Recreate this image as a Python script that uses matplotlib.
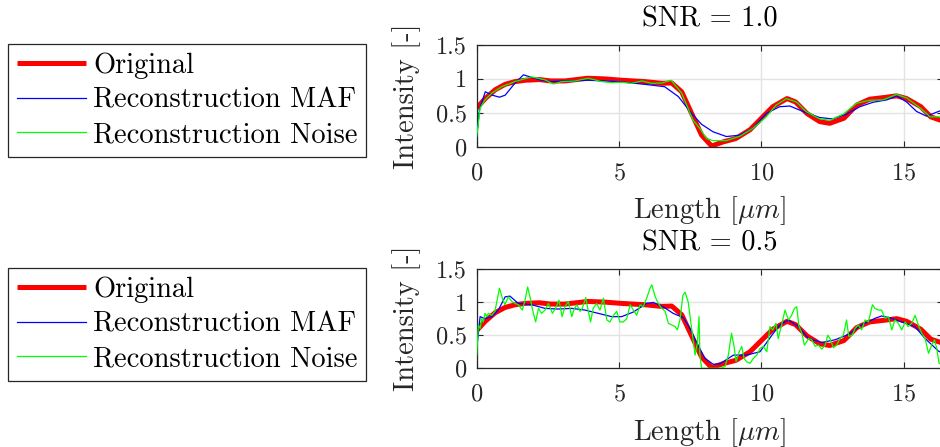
import matplotlib
matplotlib.use("Agg")
import matplotlib.pyplot as plt

plt.rcParams["font.family"] = ["cmr10", "DejaVu Serif"]
plt.rcParams["mathtext.fontset"] = "cm"
plt.rcParams["axes.formatter.use_mathtext"] = True
plt.rcParams["axes.unicode_minus"] = False

# ---- data ----
orig_x = [0.0, 0.3, 0.65, 1.0, 1.35, 1.7, 2.2, 2.6, 3.1, 3.9, 4.5, 5.1, 5.9, 6.5, 6.85, 7.2, 7.55,
          7.9, 8.25, 8.65, 9.1, 9.6, 10.0, 10.4, 10.9, 11.2, 11.6, 12.05, 12.4, 12.9, 13.35, 13.8,
          14.4, 14.75, 15.1, 15.6, 15.95, 16.3, 16.5]
orig_y = [0.57, 0.71, 0.84, 0.92, 0.96, 0.98, 0.99, 0.97, 0.97, 1.01, 1.0, 0.98, 0.96, 0.935, 0.94,
          0.81, 0.49, 0.17, 0.01, 0.07, 0.12, 0.25, 0.42, 0.59, 0.71, 0.66, 0.49, 0.37, 0.345, 0.42,
          0.615, 0.70, 0.73, 0.75, 0.71, 0.59, 0.44, 0.39, 0.36]

maf1_x = [0.0, 0.1, 0.3, 0.55, 0.8, 1.0, 1.34, 1.64, 1.87, 2.28, 2.63, 3.1, 3.92, 4.98, 5.9, 6.6,
          7.08, 7.55, 7.9, 8.3, 8.77, 9.24, 9.7, 10.17, 10.64, 11.0, 11.46, 12.05, 12.5, 12.99,
          13.46, 13.92, 14.4, 14.75, 15.1, 15.45, 15.8, 16.04, 16.28, 16.5]
maf1_y = [0.15, 0.55, 0.81, 0.76, 0.73, 0.76, 0.935, 1.06, 1.03, 0.98, 0.96, 0.97, 0.98, 0.96, 0.92,
          0.885, 0.74, 0.49, 0.33, 0.22, 0.15, 0.17, 0.27, 0.49, 0.59, 0.60, 0.52, 0.43, 0.41, 0.48,
          0.59, 0.655, 0.69, 0.75, 0.66, 0.52, 0.45, 0.49, 0.53, 0.54]

noise1_x = [0.0, 0.12, 0.29, 0.53, 0.88, 1.34, 1.92, 2.4, 2.7, 2.99, 3.45, 3.92, 4.39, 4.74, 5.09,
            5.44, 5.8, 6.15, 6.5, 6.83, 7.2, 7.6, 7.84, 8.07, 8.3, 8.77, 9.24, 9.7, 10.17, 10.52,
            10.88, 11.23, 11.58, 12.05, 12.4, 12.87, 13.34, 13.8, 14.27, 14.75, 15.1, 15.58,
            15.93, 16.28, 16.5]
noise1_y = [0.15, 0.57, 0.69, 0.79, 0.885, 0.96, 1.03, 0.985, 0.925, 0.96, 0.97, 1.01, 0.96, 0.945,
            0.95, 0.935, 0.97, 0.935, 0.94, 0.98, 0.79, 0.39, 0.27, 0.12, 0.09, 0.09, 0.155, 0.27,
            0.44, 0.615, 0.71, 0.66, 0.515, 0.41, 0.39, 0.48, 0.64, 0.685, 0.69, 0.77, 0.72, 0.57,
            0.44, 0.44, 0.42]

maf2_x = [0.0, 0.12, 0.29, 0.53, 0.76, 1.0, 1.17, 1.46, 1.93, 2.4, 2.87, 3.34, 3.8, 4.27, 4.74,
          5.09, 5.5, 5.97, 6.2, 6.55, 6.9, 7.26, 7.49, 7.73, 8.02, 8.31, 8.55, 9.02, 9.48, 9.95,
          10.42, 10.65, 10.95, 11.3, 11.65, 12.12, 12.58, 13.05, 13.52, 13.99, 14.22, 14.58,
          15.05, 15.39, 15.75, 16.22, 16.5]
maf2_y = [0.30, 0.78, 0.75, 0.78, 0.88, 1.08, 1.09, 0.98, 0.96, 0.905, 0.895, 0.905, 0.88, 0.83,
          0.78, 0.78, 0.85, 0.98, 0.995, 0.93, 0.83, 0.765, 0.60, 0.38, 0.15, 0.06, 0.07, 0.20,
          0.20, 0.25, 0.53, 0.655, 0.73, 0.63, 0.45, 0.39, 0.43, 0.51, 0.655, 0.755, 0.79, 0.755,
          0.68, 0.63, 0.45, 0.26, 0.20]

noise2_x = [0.0, 0.06, 0.12, 0.18, 0.23, 0.29, 0.35, 0.41, 0.53, 0.64, 0.73, 0.8, 0.9, 0.99, 1.11,
            1.23, 1.35, 1.46, 1.6, 1.69, 1.79, 1.87, 1.99, 2.07, 2.17, 2.28, 2.4, 2.52, 2.66, 2.77,
            2.89, 3.0, 3.1, 3.22, 3.34, 3.43, 3.52, 3.63, 3.71, 3.83, 3.92, 4.0, 4.09, 4.21, 4.33,
            4.45, 4.57, 4.68, 4.8, 4.92, 5.03, 5.15, 5.27, 5.39, 5.5, 5.62, 5.74, 5.85, 5.97, 6.09,
            6.15, 6.27, 6.38, 6.5, 6.62, 6.73, 6.85, 6.97, 7.05, 7.14, 7.24, 7.32, 7.43, 7.52,
            7.61, 7.67, 7.75, 7.81, 7.84, 7.9, 8.07, 8.31, 8.55, 8.72, 8.84, 8.95, 9.04, 9.11,
            9.22, 9.31, 9.39, 9.48, 9.6, 9.72, 9.84, 9.95, 10.07, 10.19, 10.3, 10.4, 10.51, 10.59,
            10.71, 10.83, 10.95, 11.06, 11.16, 11.24, 11.32, 11.41, 11.51, 11.59, 11.65, 11.77,
            11.89, 12.0, 12.12, 12.24, 12.33, 12.41, 12.53, 12.64, 12.76, 12.88, 12.99, 13.07,
            13.19, 13.29, 13.4, 13.52, 13.64, 13.76, 13.9, 13.99, 14.11, 14.22, 14.34, 14.46,
            14.58, 14.69, 14.81, 14.93, 15.05, 15.16, 15.28, 15.4, 15.51, 15.63, 15.75, 15.87,
            15.98, 16.08, 16.16, 16.24, 16.4]
noise2_y = [0.20, 0.655, 0.60, 0.75, 0.70, 0.83, 0.78, 0.83, 0.80, 0.86, 1.06, 1.21, 1.06, 0.96,
            1.08, 1.01, 0.98, 0.96, 0.88, 1.01, 1.23, 1.08, 0.83, 0.70, 0.905, 0.83, 0.88, 0.98,
            0.83, 0.905, 1.03, 0.78, 0.93, 1.01, 0.78, 0.905, 0.96, 0.86, 0.905, 1.07, 0.86, 0.70,
            0.905, 0.98, 0.88, 1.06, 0.73, 0.70, 0.80, 0.86, 0.70, 0.70, 0.75, 0.96, 0.88, 0.80,
            0.96, 0.93, 1.06, 1.21, 1.26, 1.08, 0.98, 0.905, 0.86, 0.68, 0.655, 0.63, 0.58, 0.73,
            1.10, 1.15, 1.0, 0.70, 0.40, 0.20, 0.38, 0.78, 0.20, 0.0, 0.0, 0.0, 0.0, 0.025, 0.20,
            0.53, 0.33, 0.10, 0.25, 0.33, 0.15, 0.10, 0.075, 0.15, 0.20, 0.30, 0.33, 0.25, 0.63,
            0.58, 0.68, 0.45, 0.655, 0.88, 0.73, 0.80, 0.905, 0.93, 0.63, 0.55, 0.35, 0.40, 0.45,
            0.43, 0.33, 0.35, 0.29, 0.35, 0.50, 0.45, 0.31, 0.35, 0.45, 0.50, 0.73, 0.48, 0.50,
            0.60, 0.655, 0.58, 0.73, 0.70, 0.96, 0.905, 0.88, 0.88, 0.755, 0.78, 0.58, 0.73, 0.68,
            0.58, 0.70, 0.63, 0.68, 0.80, 0.655, 0.53, 0.45, 0.226, 0.35, 0.43, 0.30, 0.075, 0.05]

titles = ["SNR = 1.0", "SNR = 0.5"]
labels = ["Original", "Reconstruction MAF", "Reconstruction Noise"]
y_ticks = [0, 0.5, 1, 1.5]
y_ticklabels = ["0", "0.5", "1", "1.5"]
x_ticks = [0, 5, 10, 15]

panels = [(maf1_x, maf1_y, noise1_x, noise1_y), (maf2_x, maf2_y, noise2_x, noise2_y)]

W, H = 940, 447
fig = plt.figure(figsize=(W / 100, H / 100), dpi=100)

# pixel geometry of the two axes (left, right, top, bottom)
px_per_unit = 28.47
left_px, right_px = 476.7, 943.0
boxes = [(45.0, 146.7), (269.0, 368.3)]
legend_tops = [44, 268]
xlabel_tops = [194, 416]
ink = "#262626"
fs_tick = 17.5
fs_label = 20.5
text_cx = 710

ax_w = right_px - left_px
for i, (top_px, bot_px) in enumerate(boxes):
    ax_h = bot_px - top_px
    ax = fig.add_axes([left_px / W, 1 - bot_px / H, ax_w / W, ax_h / H])
    mx, my, nx, ny = panels[i]
    l1, = ax.plot(orig_x, orig_y, color="red", lw=3.6, solid_capstyle="butt", zorder=2)
    l2, = ax.plot(mx, my, color="blue", lw=0.9, zorder=3)
    l3, = ax.plot(nx, ny, color="#00ff00", lw=0.9, zorder=4)

    ax.set_xlim(0, ax_w / px_per_unit)
    ax.set_ylim(0, 1.5)
    ax.set_xticks(x_ticks)
    ax.set_yticks(y_ticks)
    ax.set_yticklabels(y_ticklabels)
    ax.grid(True, color="#e3e3e3", lw=1.0)
    ax.set_axisbelow(True)
    ax.tick_params(direction="in", top=True, right=True, length=4, width=0.8,
                   colors=ink, labelsize=fs_tick)
    ax.tick_params(axis="x", pad=11)
    ax.tick_params(axis="y", pad=7)
    for side in ax.spines.values():
        side.set_color(ink)
        side.set_linewidth(0.9)
    ax.set_title(titles[i], fontsize=fs_label, color="black", pad=13.5,
                 x=(text_cx - left_px) / ax_w)
    ax.set_xlabel(r"Length [$\mu m$]", fontsize=fs_label, color=ink)
    ax.xaxis.set_label_coords((text_cx - left_px) / ax_w, -(xlabel_tops[i] - bot_px) / ax_h)
    ax.set_ylabel("Intensity [-]", fontsize=fs_label, color=ink, labelpad=11)

    leg = fig.legend([l1, l2, l3], labels, loc="upper left",
                     bbox_to_anchor=(8 / W, 1 - legend_tops[i] / H), bbox_transform=fig.transFigure,
                     borderaxespad=0, fontsize=fs_label, handlelength=2.45, handletextpad=0.25,
                     labelspacing=0.29, borderpad=0.3, fancybox=False, framealpha=1)
    leg.get_frame().set_edgecolor(ink)
    leg.get_frame().set_linewidth(0.9)

fig.savefig("out.png", dpi=100)
